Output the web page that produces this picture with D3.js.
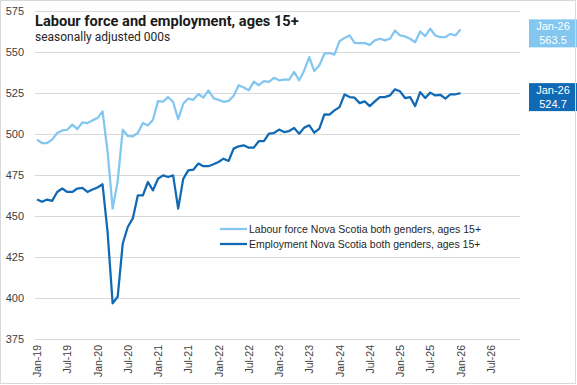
<!DOCTYPE html>
<html>
<head>
<meta charset="utf-8">
<script src="https://cdn.jsdelivr.net/npm/d3@7"></script>
<style>
	body { margin: 0; background: #fff; }
	svg { display: block; font-family: "Liberation Sans", Arial, sans-serif; }
</style>
</head>
<body>
<div id="chart"></div>
<script>
// monthly, Jan-19 .. Jan-26, thousands
var labourForce = [
	496.4, 494.3, 494.3, 496.4, 500.4, 502.0, 502.4, 505.5, 502.8, 506.9, 506.5, 508.1,
	509.5, 513.6, 489.0, 454.4, 471.0, 502.4, 498.6, 498.4, 500.4, 506.5, 505.0, 508.5,
	519.8, 519.5, 522.3, 519.3, 508.8, 518.2, 521.4, 520.6, 524.0, 522.0, 526.4, 521.6,
	520.6, 519.4, 520.0, 523.0, 529.5, 528.1, 526.4, 531.7, 529.5, 532.0, 531.5, 534.0,
	532.5, 532.9, 532.9, 537.6, 532.5, 538.5, 546.6, 538.1, 541.6, 548.7, 549.1, 548.1,
	556.3, 558.3, 559.8, 555.3, 555.1, 555.1, 554.1, 556.8, 557.8, 556.8, 557.8, 562.8,
	559.8, 559.2, 557.8, 555.7, 562.2, 559.4, 563.9, 559.8, 558.8, 558.8, 560.8, 559.8,
	563.5
];
var employment = [
	459.9, 458.5, 459.9, 459.1, 464.5, 466.6, 464.5, 464.5, 466.6, 467.0, 464.5, 466.0,
	467.2, 469.2, 440.0, 396.7, 400.7, 433.0, 443.2, 448.4, 462.5, 462.5, 470.6, 465.5,
	472.6, 474.6, 473.6, 474.6, 454.4, 472.5, 477.7, 478.1, 481.8, 480.2, 480.2, 481.4,
	482.8, 484.8, 483.4, 490.9, 492.3, 492.9, 491.5, 491.5, 495.5, 495.5, 500.0, 500.4,
	502.5, 501.0, 501.6, 503.5, 500.0, 503.7, 505.1, 500.6, 503.1, 511.8, 511.6, 514.2,
	516.2, 523.9, 522.3, 521.9, 518.6, 519.7, 516.8, 519.7, 522.3, 522.3, 523.3, 527.0,
	525.8, 521.7, 522.3, 516.8, 525.3, 521.7, 525.0, 523.3, 523.7, 521.3, 524.0, 524.0,
	524.7
];
var tickLabels = ["Jan-19", "Jul-19", "Jan-20", "Jul-20", "Jan-21", "Jul-21", "Jan-22", "Jul-22",
	"Jan-23", "Jul-23", "Jan-24", "Jul-24", "Jan-25", "Jul-25", "Jan-26", "Jul-26"];
var yTicks = [375, 400, 425, 450, 475, 500, 525, 550, 575];
var seriesNames = ["Labour force Nova Scotia both genders, ages 15+", "Employment Nova Scotia both genders, ages 15+"];
var lastMonth = "Jan-26";

var width = 577,
	height = 385;

var lightBlue = "#83c6f0",
	darkBlue = "#1069b4";

var svg = d3.select("#chart")
	.append("svg")
		.attr("width", width)
		.attr("height", height);

var x = d3.scaleLinear()
	.domain([-0.4, 95.8])
	.range([35, 520]);

var y = d3.scaleLinear()
	.domain([375, 575])
	.range([339, 10.5]);

// gridlines
svg.append("g")
	.selectAll("line")
	.data(yTicks)
	.join("line")
		.attr("x1", 35)
		.attr("x2", 520)
		.attr("y1", function(d) { return Math.round(y(d)) + 0.5; })
		.attr("y2", function(d) { return Math.round(y(d)) + 0.5; })
		.attr("stroke", "#d9d9d9")
		.attr("stroke-width", 1);

// y axis labels
var yAxis = d3.axisLeft(y).tickValues(yTicks).tickSize(0).tickPadding(0);
svg.append("g")
	.attr("transform", "translate(24,0)")
	.call(yAxis)
	.call(function(g) { g.select(".domain").remove(); })
	.selectAll("text")
		.attr("font-size", "11px")
		.attr("font-family", "Liberation Sans, Arial, sans-serif")
		.attr("fill", "#404040");

// x axis labels, rotated
var xAxis = d3.axisBottom(x)
	.tickValues(d3.range(tickLabels.length).map(function(i) { return i * 6; }))
	.tickFormat(function(d) { return tickLabels[d / 6]; })
	.tickSize(0);
svg.append("g")
	.attr("transform", "translate(0,345)")
	.call(xAxis)
	.call(function(g) { g.select(".domain").remove(); })
	.selectAll("text")
		.attr("font-size", "10.5px")
		.attr("font-family", "Liberation Sans, Arial, sans-serif")
		.attr("fill", "#404040")
		.attr("text-anchor", "end")
		.attr("transform", "rotate(-90)")
		.attr("x", 0)
		.attr("y", 0)
		.attr("dy", "0.35em");

var line = d3.line()
	.x(function(d, i) { return x(i); })
	.y(function(d) { return y(d); });

svg.append("path")
	.datum(labourForce)
	.attr("fill", "none")
	.attr("stroke", lightBlue)
	.attr("stroke-width", 2.25)
	.attr("stroke-linejoin", "round")
	.attr("d", line);

svg.append("path")
	.datum(employment)
	.attr("fill", "none")
	.attr("stroke", darkBlue)
	.attr("stroke-width", 2.25)
	.attr("stroke-linejoin", "round")
	.attr("d", line);

// title
svg.append("text")
	.attr("x", 35)
	.attr("y", 26)
	.attr("font-family", "Roboto, sans-serif")
	.attr("font-weight", 700)
	.attr("font-size", "14.6px")
	.attr("fill", "#1a1a1a")
	.text("Labour force and employment, ages 15+");

svg.append("text")
	.attr("x", 35)
	.attr("y", 41)
	.attr("font-family", "Roboto, sans-serif")
	.attr("font-size", "12px")
	.attr("fill", "#262626")
	.text("seasonally adjusted 000s");

// legend
var legend = svg.append("g")
	.selectAll("g")
	.data([lightBlue, darkBlue])
	.join("g")
		.attr("transform", function(d, i) { return "translate(220," + (229 + i * 15) + ")"; });

legend.append("line")
	.attr("x1", 0)
	.attr("x2", 27)
	.attr("stroke", function(d) { return d; })
	.attr("stroke-width", 2.25);

legend.append("text")
	.attr("x", 29)
	.attr("dy", "0.35em")
	.attr("font-size", "10.5px")
	.attr("fill", "#262626")
	.text(function(d, i) { return seriesNames[i]; });

// end value labels
var ends = [
	{ value: labourForce[labourForce.length - 1], color: lightBlue },
	{ value: employment[employment.length - 1], color: darkBlue }
];

var tags = svg.append("g")
	.selectAll("g")
	.data(ends)
	.join("g")
		.attr("transform", function(d) { return "translate(529," + (y(d.value) + 4 - 14) + ")"; });

tags.append("rect")
	.attr("width", 48)
	.attr("height", 28)
	.attr("fill", function(d) { return d.color; });

tags.append("text")
	.attr("x", 24)
	.attr("y", 11)
	.attr("text-anchor", "middle")
	.attr("font-size", "11px")
	.attr("fill", "#fff")
	.text(lastMonth);

tags.append("text")
	.attr("x", 24)
	.attr("y", 24.5)
	.attr("text-anchor", "middle")
	.attr("font-size", "11px")
	.attr("fill", "#fff")
	.text(function(d) { return d3.format(".1f")(d.value); });

// chart border
svg.append("rect")
	.attr("x", 0.5)
	.attr("y", 0.5)
	.attr("width", 575)
	.attr("height", 383)
	.attr("fill", "none")
	.attr("stroke", "#d9d9d9");
</script>
</body>
</html>
